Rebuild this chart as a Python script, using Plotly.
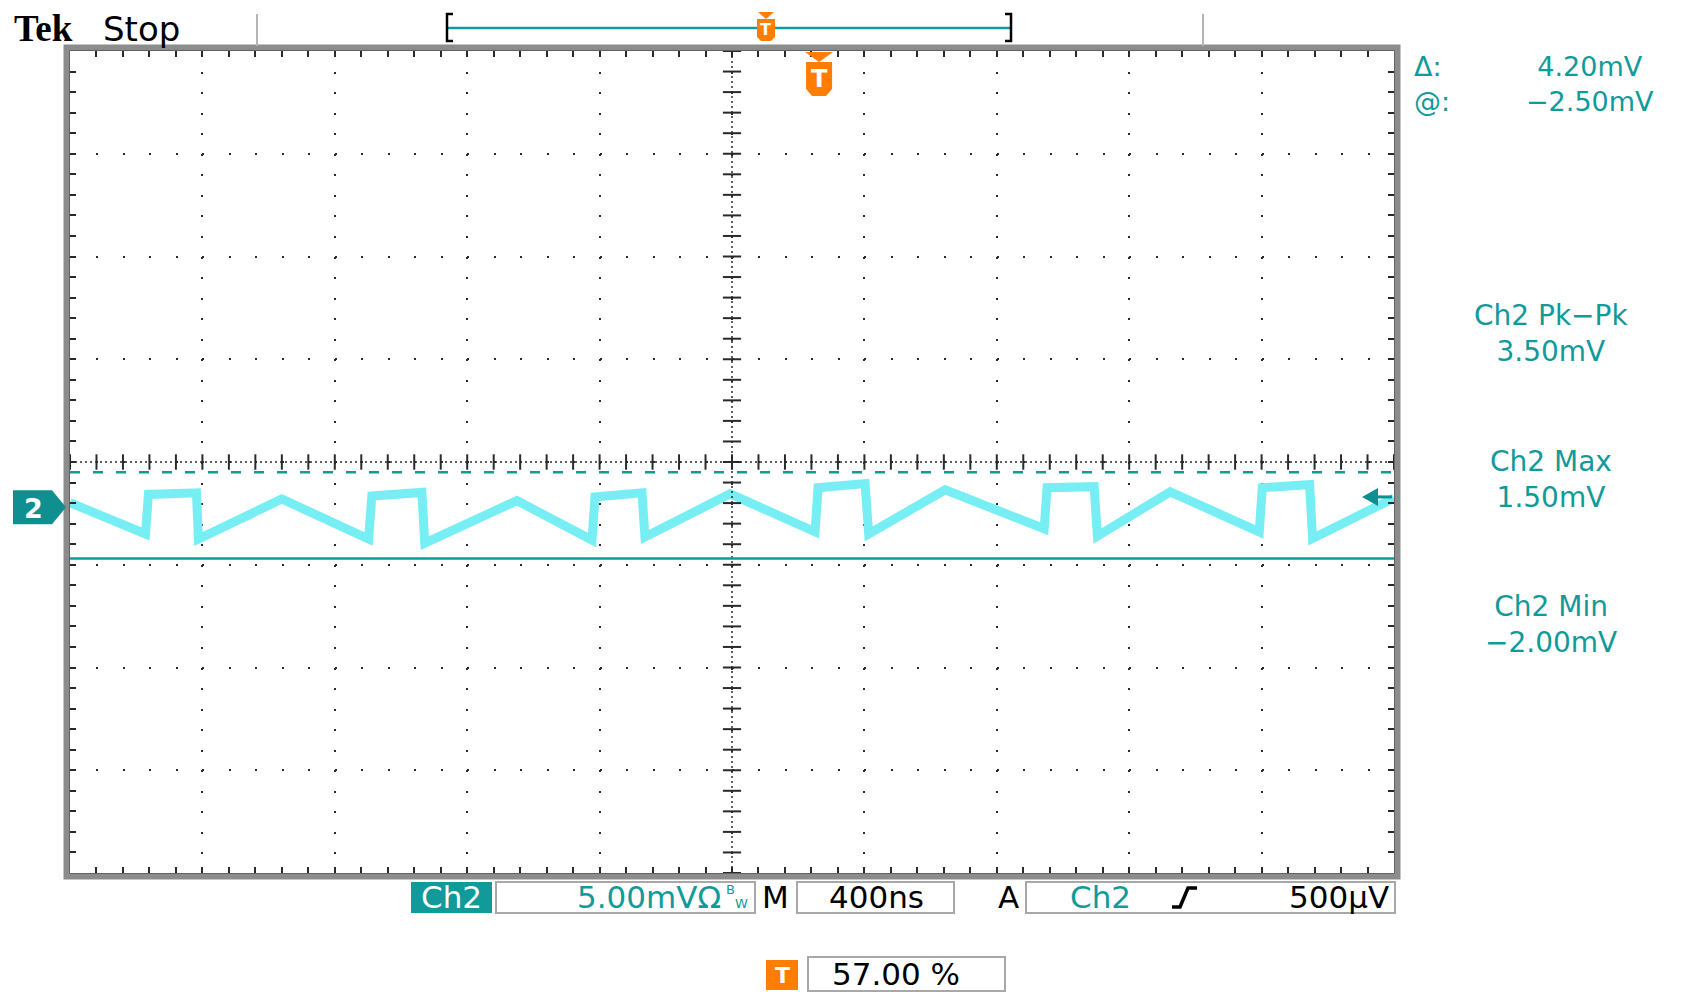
import plotly.graph_objects as go

# ---------------- data ----------------
time_ns = [-2263, -2035, -2026, -1881, -1875, -1623, -1361, -1351, -1200, -1191,
           -913, -686, -677, -535, -526, -269, -12, -3, 139, 150, 381, 680, 689,
           831, 841, 1061, 1330, 1339, 1482, 1491, 1737]
ch2_mV = [0.22, -1.30, 0.62, 0.70, -1.55, 0.40, -1.55, 0.55, 0.72, -1.75,
          0.32, -1.60, 0.50, 0.70, -1.45, 0.65, -1.20, 0.95, 1.15, -1.30, 0.85,
          -1.05, 0.95, 1.00, -1.40, 0.75, -1.20, 0.95, 1.10, -1.52, 0.45]

time_per_div_ns = 400
mv_per_div = 5
n_xdiv, n_ydiv = 10, 8
x_left_ns = -2263          # left edge of record relative to trigger
screen_center_mV = 2.2     # channel offset: screen centre relative to ground
cursor_a_mV = 1.70
cursor_b_mV = -2.50
trigger_level_mV = 0.50

cursor_labels = ["Δ:", "@:"]
cursor_values = ["4.20mV", "−2.50mV"]
meas_labels = ["Ch2 Pk−Pk", "Ch2 Max", "Ch2 Min"]
meas_values = ["3.50mV", "1.50mV", "−2.00mV"]
scale_text = "5.00mVΩ"
timebase_text = "400ns"
trig_text = "500µV"
trig_pos_text = "57.00 %"

# ---------------- geometry (page pixels) ----------------
OFF = 8                     # default page margin around the figure
PAGE_W, PAGE_H = 1685, 992
W_FIG, H_FIG = PAGE_W - OFF, PAGE_H - OFF
L, T, W, H = 70, 51, 1324, 822
x_right_ns = x_left_ns + n_xdiv * time_per_div_ns
y_bot = screen_center_mV - n_ydiv / 2 * mv_per_div
y_top = screen_center_mV + n_ydiv / 2 * mv_per_div
x_center = (x_left_ns + x_right_ns) / 2

TEAL = "#109a9a"
TEAL_D = "#0f8f8f"
ORANGE = "#ff7d00"
GRID = "#2a2a2a"
WAVE = "rgb(118,238,244)"


def px(x):
    return (x - L) / W


def py(y):
    return (T + H - y) / H


def xpx(t):
    return L + (t - x_left_ns) / (x_right_ns - x_left_ns) * W


def ypx(v):
    return T + (y_top - v) / (y_top - y_bot) * H


def path(pts, closed=True):
    s = "M" + " L".join(f"{px(x):.5f},{py(y):.5f}" for x, y in pts)
    return s + (" Z" if closed else "")


shapes = []
annotations = []


def poly(pts, fill=None, color=None, width=0, closed=True):
    shapes.append(dict(type="path", xref="paper", yref="paper", path=path(pts, closed),
                       fillcolor=fill if fill else "rgba(0,0,0,0)",
                       line=dict(color=color if color else "rgba(0,0,0,0)", width=width)))


def box(x0, y0, x1, y1, fill=None, color=None, width=0):
    shapes.append(dict(type="rect", xref="paper", yref="paper",
                       x0=px(x0), x1=px(x1), y0=py(y1), y1=py(y0),
                       fillcolor=fill if fill else "rgba(0,0,0,0)",
                       line=dict(color=color if color else "rgba(0,0,0,0)", width=width)))


def txt(s, x, y, size, color, anchor="center", family="DejaVu Sans", weight="normal", align="center"):
    annotations.append(dict(text=s, x=px(x), y=py(y), xref="paper", yref="paper",
                            xanchor=anchor, yanchor="middle", showarrow=False, align=align,
                            font=dict(size=size, color=color, family=family, weight=weight)))


fig = go.Figure()

# waveform
fig.add_trace(go.Scatter(x=time_ns, y=ch2_mV, mode="lines",
                         line=dict(color=WAVE, width=9), hoverinfo="skip"))

# centre-line tick marks
minor_x = [x_left_ns + k * time_per_div_ns / 5 for k in range(n_xdiv * 5 + 1)]
minor_y = [y_bot + k * mv_per_div / 5 for k in range(n_ydiv * 5 + 1)]
fig.add_trace(go.Scatter(x=minor_x, y=[screen_center_mV] * len(minor_x), mode="markers",
                         marker=dict(symbol="line-ns", size=11, line=dict(width=2, color=GRID)),
                         hoverinfo="skip"))
fig.add_trace(go.Scatter(x=[x_center] * len(minor_y), y=minor_y, mode="markers",
                         marker=dict(symbol="line-ew", size=13, line=dict(width=2, color=GRID)),
                         hoverinfo="skip"))

# centre dotted lines
shapes.append(dict(type="line", xref="x", yref="y", x0=x_left_ns, x1=x_right_ns,
                   y0=screen_center_mV, y1=screen_center_mV,
                   line=dict(color=GRID, width=1.5, dash="2px,3px")))
shapes.append(dict(type="line", xref="x", yref="y", x0=x_center, x1=x_center,
                   y0=y_bot, y1=y_top, line=dict(color=GRID, width=1.5, dash="2px,3px")))

# cursors
shapes.append(dict(type="line", xref="x", yref="y", x0=x_left_ns, x1=x_right_ns,
                   y0=cursor_a_mV, y1=cursor_a_mV,
                   line=dict(color=TEAL, width=2.5, dash="10px,13px")))
shapes.append(dict(type="line", xref="x", yref="y", x0=x_left_ns, x1=x_right_ns,
                   y0=cursor_b_mV, y1=cursor_b_mV, line=dict(color=TEAL, width=2.5)))

# gray frame
shapes.append(dict(type="rect", xref="paper", yref="paper",
                   x0=-3.5 / W, x1=1 + 3.5 / W, y0=-3.5 / H, y1=1 + 3.5 / H,
                   line=dict(color="#8c8c8c", width=6)))

# channel ground marker
yg = ypx(0)
poly([(13, yg - 17), (52, yg - 17), (66, yg), (52, yg + 17), (13, yg + 17)], fill=TEAL_D)
txt("2", 33, yg + 1, 27, "white", weight="bold")

# trigger level arrow (right)
yl = ypx(trigger_level_mV)
poly([(1362, yl), (1378, yl - 9), (1378, yl + 9)], fill=TEAL_D)
poly([(1376, yl), (1392, yl)], color=TEAL_D, width=3, closed=False)

# trigger position marker on graticule
xt = xpx(0)
poly([(xt - 14, 52), (xt + 14, 52), (xt, 62)], fill=ORANGE)
poly([(xt - 13, 62), (xt + 13, 62), (xt + 13, 89), (xt + 7, 96), (xt - 7, 96), (xt - 13, 89)], fill=ORANGE)
txt("T", xt, 79, 24, "white", weight="bold")

# header
txt("Tek", 12, 29, 37, "black", anchor="left", family="Liberation Serif", weight="bold")
txt("Stop", 101, 29, 34, "black", anchor="left")
poly([(257, 14), (257, 46)], color="#b4b4b4", width=2, closed=False)
poly([(1203, 14), (1203, 46)], color="#b4b4b4", width=2, closed=False)
poly([(447, 28), (1011, 28)], color=TEAL, width=2.5, closed=False)
poly([(453, 14), (447, 14), (447, 41), (453, 41)], color="black", width=2.5, closed=False)
poly([(1005, 14), (1011, 14), (1011, 41), (1005, 41)], color="black", width=2.5, closed=False)
poly([(758, 12), (774, 12), (766, 19)], fill=ORANGE)
poly([(757, 19), (775, 19), (775, 37), (771, 41), (761, 41), (757, 37)], fill=ORANGE)
txt("T", 766, 30, 16, "white", weight="bold")

# right-side readouts
txt("<br>".join(cursor_labels), 1412, 84, 27, TEAL, anchor="left", align="left")
txt("<br>".join(cursor_values), 1590, 84, 27, TEAL)
meas_y = [333, 479, 624]
for lab, val, ym in zip(meas_labels, meas_values, meas_y):
    txt(f"{lab}<br>{val}", 1551, ym, 28, TEAL)

# bottom status bar
yb = 897
box(411, 882, 492, 913, fill=TEAL)
txt("Ch2", 451.5, yb, 31, "white")
box(496, 882, 755, 913, color="#a8a8a8", width=2)
txt(scale_text, 723, yb, 31, TEAL, anchor="right")
txt("B", 730, 889, 13, TEAL)
txt("W", 741, 904, 13, TEAL)
txt("M", 776, yb, 31, "black")
box(797, 882, 954, 913, color="#a8a8a8", width=2)
txt(timebase_text, 876, yb, 31, "black")
txt("A", 1008, yb, 31, "black")
box(1026, 882, 1395, 913, color="#a8a8a8", width=2)
txt("Ch2", 1100, yb, 31, TEAL)
poly([(1172, 907), (1180, 907), (1188, 888), (1197, 888)], color="black", width=3.5, closed=False)
txt(trig_text, 1391, yb, 31, "black", anchor="right")
box(766, 960, 798, 990, fill=ORANGE)
txt("T", 782, 975, 22, "white", weight="bold")
box(808, 957, 1005, 991, color="#a8a8a8", width=2)
txt(trig_pos_text, 896, 974, 31, "black")

axis_common = dict(showticklabels=False, ticks="inside", ticklen=6, tickwidth=1.5,
                   tickcolor=GRID, showgrid=True, gridcolor=GRID, gridwidth=2,
                   zeroline=False, showline=True, linecolor="#3a3a3a", linewidth=1.5,
                   mirror="ticks", fixedrange=True)

fig.update_layout(
    width=W_FIG, height=H_FIG,
    margin=dict(l=L - OFF, r=W_FIG - (L - OFF) - W, t=T - OFF, b=H_FIG - (T - OFF) - H,
                autoexpand=False),
    paper_bgcolor="white", plot_bgcolor="white", showlegend=False,
    xaxis=dict(range=[x_left_ns, x_right_ns], tick0=x_left_ns, dtick=time_per_div_ns,
               griddash=f"2px,{H / n_ydiv / 5 - 2:.2f}px",
               minor=dict(ticks="inside", ticklen=6, tickwidth=1.5, tickcolor=GRID,
                          dtick=time_per_div_ns / 5, tick0=x_left_ns, showgrid=False),
               **axis_common),
    yaxis=dict(range=[y_bot, y_top], tick0=y_bot, dtick=mv_per_div,
               griddash=f"2px,{W / n_xdiv / 5 - 2:.2f}px",
               minor=dict(ticks="inside", ticklen=6, tickwidth=1.5, tickcolor=GRID,
                          dtick=mv_per_div / 5, tick0=y_bot, showgrid=False),
               **axis_common),
    shapes=shapes, annotations=annotations,
)

fig.write_html("out.html")
